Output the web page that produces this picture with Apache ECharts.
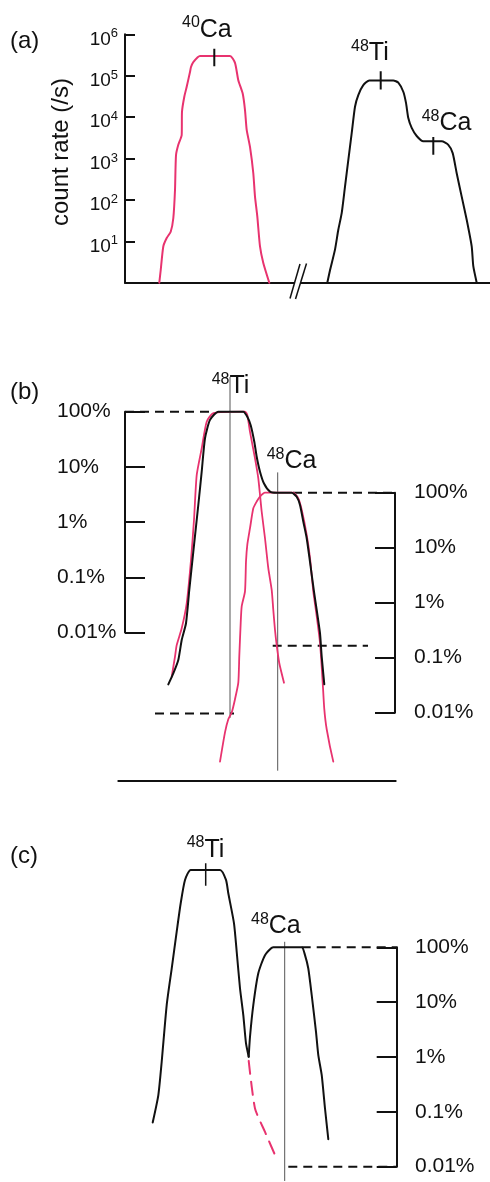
<!DOCTYPE html>
<html><head><meta charset="utf-8">
<script src="https://cdn.jsdelivr.net/npm/echarts@6/dist/echarts.min.js"></script>
<style>html,body{margin:0;padding:0;background:#fff}#c{width:490px;height:1182px}</style>
</head><body><div id="c"></div>
<script>
// ================= DATA =================
// x = mass-scan position (arbitrary units), y = count rate (/s) or relative intensity (%)
// Panel (a)
const aCa40Pos  = [159.3,160.7,163.3,166.7,170.7,173.3,175,176,178.3,181.7,182,184.3,186.7,190,191,193.3,200,230,235,238.3,242.7,245,246.7,250,253.3,255,257.3,260,263.3,269.3];
const aCa40Rate = [1,2,7.5,12,17,36,174,1200,2140,3700,13500,31000,54000,123000,162000,214000,300000,300000,204000,78000,37000,14800,4900,1900,440,120,40,7.5,3,1];
const aM48Pos   = [327.3,330,335,338.3,341.7,345,348.3,351.7,355,358.3,363.3,369.3,393.3,398.3,403.3,406,408.3,411.7,416.7,423.3,441.7,448.3,452.7,456.7,461.7,466.7,471.7,473.3,476.7];
const aM48Rate  = [1,2,6.3,19,48,210,910,4100,17800,34000,59000,77000,77000,68000,41000,22000,9500,5500,3500,2600,2600,2140,1350,440,120,33,7.5,2.5,1];
const aTickExponents = ['', '1', '2', '3', '4', '5', '6'];
const aPeakMarkers = [ {pos:214.3, rate:[4.45e5,1.69e5]}, {pos:380.7, rate:[1.28e5,4.65e4]}, {pos:433.3, rate:[3300,1240]} ];

// Panel (b)  (Ti-relative % on left scale, Ca-relative % on right scale)
const bTiPos  = [171.7,175,176.7,181.7,186.7,191,194,196.7,201.7,206.7,213.3,245,247.3,250,255,258.3,261.7,265,268.3,271.7,273.3,275,276.7,279.3,284];
const bTiPct  = [0.00158,0.00365,0.0059,0.0119,0.0338,0.206,1.09,7.1,21.7,66,94,100,87,43,14.3,6.2,1.54,0.51,0.146,0.059,0.0256,0.0111,0.0059,0.00277,0.00123];
const bCaPos  = [220,225,228.3,231.7,235,238.3,239.3,240.7,241.7,245,246,247.3,250,253.3,256.7,260,265,293.3,298.3,301.7,306.7,310,313.3,316.7,320,322.7,324.3,326.7,333.3];
const bCaPct  = [0.00129,0.00438,0.0076,0.0101,0.0176,0.0352,0.107,0.43,0.86,1.61,5.6,11.3,22.6,52,69,85,100,100,79,49,17.1,6.5,1.61,0.57,0.187,0.0352,0.0116,0.005,0.00129];
const bSumPos = [168.3,173.3,178.3,181.7,186,189.3,193.3,198.3,201.7,205,210,218.3,243.3,247.3,250.7,254.3,256.7,260,264,270,276.7,291.7,296.7,300,303.3,306.7,310,314,316.7,320,321.7,324.3];
const bSumPct = [0.00115,0.00182,0.00318,0.0073,0.0147,0.059,0.29,2.04,8.2,33,71,100,100,81,57,28.6,15.3,8.2,5.0,3.56,3.4,3.4,2.88,2.04,1.02,0.51,0.19,0.055,0.0256,0.0097,0.00365,0.00115];
const bTiGuide = {pos:230, pct:[425, 0.000284]};      // left scale
const bCaGuide = {pos:277.7, pct:[234, 0.000883]};    // right scale
const bTiTopLevel   = {from:125, to:213, pct:100};    // left scale
const bCaTopLevel   = {from:293, to:395, pct:100};    // right scale
const bTiAtCaLevel  = {from:272.7, to:368, pct:0.165};// right scale
const bCaAtTiLevel  = {from:155, to:234, pct:0.0097}; // right scale
const bBaseline = [118.3, 395.7];

// Panel (c)  (Ca-relative %)
const cTiPos = [152.7,158.3,161.7,166.7,171.7,176.7,180.7,185,190.7,220,226,228.3,234,236.7,240,243.3,246,248.7];
const cTiPct = [0.064,0.2,0.82,8.85,41,193,635,1690,2575,2575,1690,966,274,83,17.9,5.8,1.77,1.01];
const cCaPos = [248.7,250,253.3,258.3,265,273.3,301.7,305,308.3,311.7,316,318.3,321.7,325,328.3];
const cCaPct = [1.01,2.34,8.85,33.6,72,100,100,72,41,13.5,2.88,1.08,0.47,0.115,0.0318];
const cTiTailPos = [248.7,255,265,277.3];
const cTiTailPct = [0.85,0.115,0.043,0.0131];
const cTiMarker = {pos:205.7, pct:[3412,1330]};
const cCaGuide  = {pos:284.7, pct:[126, 0.0055]};
const cCaTopLevel = {from:301.7, to:396.7, pct:100};
const cCaLowLevel = {from:288.3, to:396.7, pct:0.01};

const pctTickLabels = ['0.01%','0.1%','1%','10%','100%'];
const peakLabels = [
  {sup:'40', el:'Ca', x:182,   y:38.3},
  {sup:'48', el:'Ti', x:351,   y:61.7},
  {sup:'48', el:'Ca', x:421.7, y:131.7},
  {sup:'48', el:'Ti', x:211.7, y:395},
  {sup:'48', el:'Ca', x:266.7, y:470},
  {sup:'48', el:'Ti', x:186.7, y:858.3},
  {sup:'48', el:'Ca', x:251,   y:935}
];
const panelLabels = [{t:'(a)', y:41}, {t:'(b)', y:392}, {t:'(c)', y:856}];

// ================= CHART =================
const FONT = '"Liberation Sans", Arial, Helvetica, sans-serif';
const INK = '#111', PINK = '#e8336f', GUIDE = '#555';
const zip = (xs, ys) => xs.map((x, i) => [x, ys[i]]);
const lg = v => Math.round(Math.log(v) / Math.LN10);

function curve(idx, xs, ys, color, width, dash, z) {
  return {type:'line', xAxisIndex:idx, yAxisIndex:idx, data:zip(xs, ys), symbol:'none', clip:false,
    smooth:0.2, silent:true, z:z||2, lineStyle:{color:color, width:width, type:dash||'solid', cap:'round', join:'round'}};
}
function vline(idx, pos, ys, color, width, z) {
  return {type:'line', xAxisIndex:idx, yAxisIndex:idx, data:ys.map(v => [pos, v]), symbol:'none', clip:false,
    silent:true, z:z||1, lineStyle:{color:color, width:width}};
}
function hlevel(idx, lv, dash) {
  return {type:'line', xAxisIndex:idx, yAxisIndex:idx, data:[[lv.from, lv.pct],[lv.to, lv.pct]], symbol:'none', clip:false,
    silent:true, z:1, lineStyle:{color:INK, width:2, type:dash}};
}

const hiddenX = (gi, min, max) => ({type:'value', gridIndex:gi, min:min, max:max, show:false});
const pctAxis = (gi, pos, margin) => ({
  type:'log', logBase:10, gridIndex:gi, min:0.01, max:100, position:pos, splitNumber:4,
  axisLine:{show:true, onZero:false, lineStyle:{color:INK, width:2}},
  axisTick:{show:true, inside:true, length:20, lineStyle:{color:INK, width:2}},
  splitLine:{show:false},
  axisLabel:{show:true, showMinLabel:true, showMaxLabel:true, align:'left', margin:margin, color:INK,
    fontFamily:FONT, fontSize:21, padding:[5,0,0,0], formatter: v => pctTickLabels[lg(v) + 2]}
});

const option = {
  animation:false,
  backgroundColor:'#fff',
  grid:[
    {left:125, top:34.3, width:365, height:248.4, outerBoundsMode:'none'},
    {left:125, top:411.7, width:270, height:220.8, outerBoundsMode:'none'},
    {left:125, top:492.7, width:270, height:220, outerBoundsMode:'none'},
    {left:118.3, top:770, width:277.4, height:11, outerBoundsMode:'none'},
    {left:125, top:947.3, width:271.7, height:219.4, outerBoundsMode:'none'}
  ],
  xAxis:[
    {type:'value', gridIndex:0, min:125, max:490, axisLine:{show:true, onZero:false, lineStyle:{color:INK, width:2}},
      axisTick:{show:false}, axisLabel:{show:false}, splitLine:{show:false}},
    hiddenX(1, 125, 395),
    hiddenX(2, 125, 395),
    {type:'value', gridIndex:3, min:bBaseline[0], max:bBaseline[1], axisLine:{show:true, onZero:false, lineStyle:{color:INK, width:2}},
      axisTick:{show:false}, axisLabel:{show:false}, splitLine:{show:false}},
    hiddenX(4, 125, 396.7)
  ],
  yAxis:[
    {type:'log', logBase:10, gridIndex:0, min:1, max:1e6, position:'left', splitNumber:6,
      axisLine:{show:true, onZero:false, lineStyle:{color:INK, width:2}},
      axisTick:{show:true, inside:true, length:10, lineStyle:{color:INK, width:2}},
      splitLine:{show:false},
      axisLabel:{show:true, showMinLabel:true, showMaxLabel:true, margin:7, color:INK, padding:[10,0,0,0],
        formatter: v => { const e = aTickExponents[lg(v)]; return e ? '{b|10}{s|' + e + '}' : ''; },
        rich:{ b:{fontFamily:FONT, fontSize:19, lineHeight:24, color:INK},
               s:{fontFamily:FONT, fontSize:13, lineHeight:14, verticalAlign:'top', color:INK} }}
    },
    pctAxis(1, 'left', 68),
    pctAxis(2, 'right', 19),
    {type:'value', gridIndex:3, show:false, min:0, max:1},
    pctAxis(4, 'right', 18.3)
  ],
  series:[
    // (a)
    curve(0, aCa40Pos, aCa40Rate, PINK, 2),
    curve(0, aM48Pos, aM48Rate, INK, 2),
    ...aPeakMarkers.map(m => vline(0, m.pos, m.rate, INK, 2, 3)),
    // (b)
    vline(1, bTiGuide.pos, bTiGuide.pct, GUIDE, 1),
    vline(2, bCaGuide.pos, bCaGuide.pct, GUIDE, 1),
    hlevel(1, bTiTopLevel, [9,6]),
    hlevel(2, bCaTopLevel, [9,6]),
    hlevel(2, bTiAtCaLevel, [9,6]),
    hlevel(2, bCaAtTiLevel, [9,6]),
    curve(1, bTiPos, bTiPct, PINK, 1.8, null, 2),
    curve(2, bCaPos, bCaPct, PINK, 1.8, null, 2),
    curve(1, bSumPos, bSumPct, INK, 2, null, 3),
    // (c)
    vline(4, cCaGuide.pos, cCaGuide.pct, GUIDE, 1),
    hlevel(4, cCaTopLevel, [9,6]),
    hlevel(4, cCaLowLevel, [9,6]),
    curve(4, cTiTailPos, cTiTailPct, PINK, 2, [13,8], 2),
    curve(4, cTiPos, cTiPct, INK, 2, null, 3),
    curve(4, cCaPos, cCaPct, INK, 2, null, 3),
    vline(4, cTiMarker.pos, cTiMarker.pct, INK, 1.5, 3)
  ],
  graphic:[
    ...panelLabels.map(p => ({type:'text', x:10, y:p.y, z:10,
      style:{text:p.t, font:'24px ' + FONT, fill:INK, verticalAlign:'middle', align:'left'}})),
    {type:'text', x:61, y:152, rotation:Math.PI/2, z:10,
      style:{text:'count rate (/s)', font:'24px ' + FONT, fill:INK, align:'center', verticalAlign:'middle'}},
    ...peakLabels.map(p => ({type:'text', x:p.x, y:p.y - 23.5, z:10,
      style:{text:'{s|' + p.sup + '}{b|' + p.el + '}', align:'left', verticalAlign:'top', fill:INK,
        rich:{ s:{fontFamily:FONT, fontSize:16, lineHeight:16, verticalAlign:'top', fill:INK},
               b:{fontFamily:FONT, fontSize:25, lineHeight:30, fill:INK} }}})),
    // axis break on the (a) baseline
    {type:'rect', z:20, shape:{x:294.8, y:279, width:5.6, height:7}, style:{fill:'#fff'}},
    {type:'line', z:21, shape:{x1:290, y1:298.5, x2:300, y2:264}, style:{stroke:INK, lineWidth:1.5}},
    {type:'line', z:21, shape:{x1:295.5, y1:299, x2:306.5, y2:263.5}, style:{stroke:INK, lineWidth:1.5}}
  ]
};
const chart = echarts.init(document.getElementById('c'));
chart.setOption(option);
</script></body></html>
